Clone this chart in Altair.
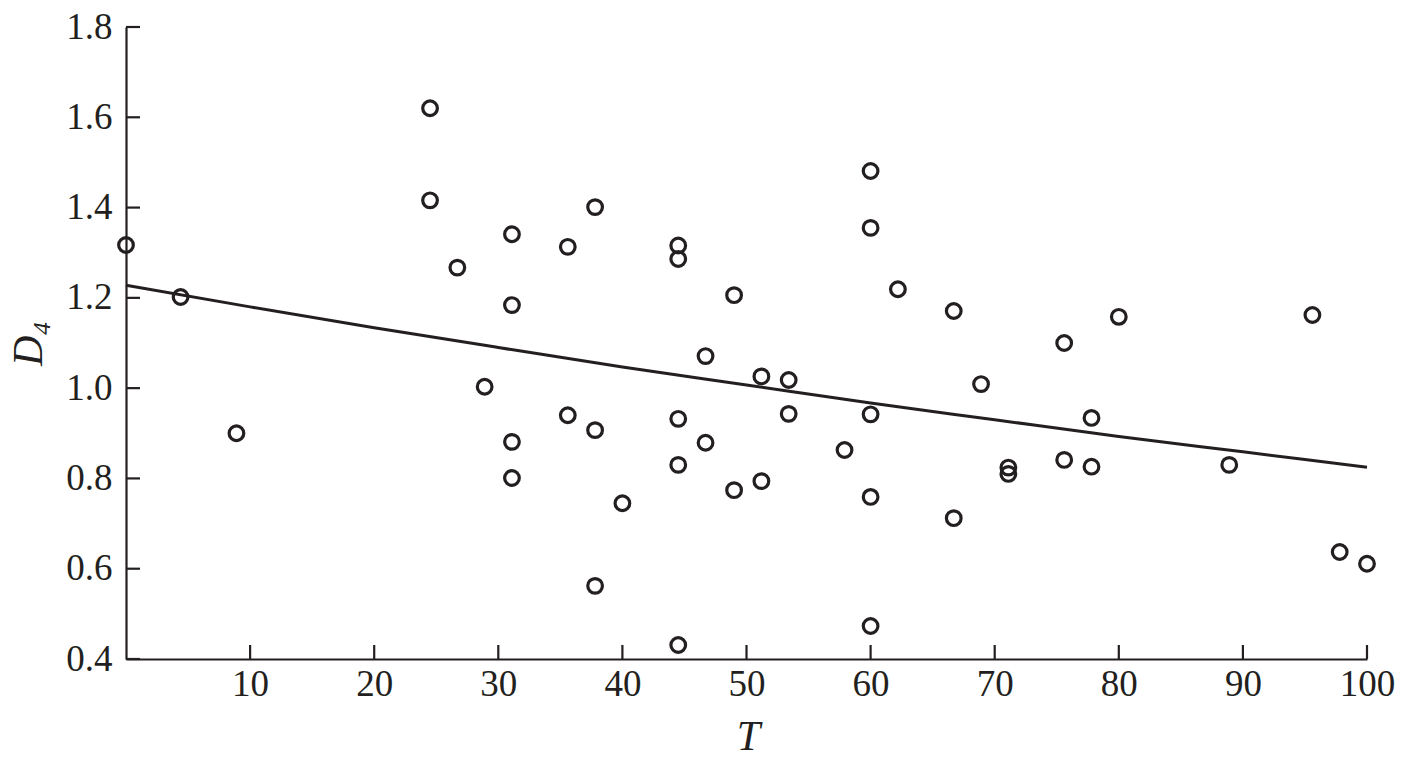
import altair as alt
import pandas as pd

# scatter data (T, D4)
t_vals = [0, 4.4, 8.9, 24.5, 24.5, 26.7, 28.9, 31.1, 31.1, 31.1, 31.1, 35.6, 35.6,
          37.8, 37.8, 37.8, 40.0, 44.5, 44.5, 44.5, 44.5, 44.5, 46.7, 46.7, 49.0, 49.0,
          51.2, 51.2, 53.4, 53.4, 57.9, 60.0, 60.0, 60.0, 60.0, 60.0, 62.2, 66.7, 66.7,
          68.9, 71.1, 71.1, 75.6, 75.6, 77.8, 77.8, 80.0, 88.9, 95.6, 97.8, 100.0]
d4_vals = [1.317, 1.202, 0.900, 1.620, 1.416, 1.267, 1.003, 1.341, 1.184, 0.881, 0.801, 1.313, 0.940,
           1.401, 0.907, 0.562, 0.745, 1.316, 1.286, 0.932, 0.830, 0.431, 1.071, 0.879, 1.206, 0.774,
           1.026, 0.794, 1.018, 0.943, 0.863, 1.481, 1.355, 0.942, 0.759, 0.473, 1.219, 1.171, 0.712,
           1.009, 0.824, 0.810, 1.100, 0.841, 0.934, 0.826, 1.158, 0.830, 1.162, 0.637, 0.611]

# fitted curve
curve_t = [0, 10, 20, 30, 40, 50, 60, 70, 80, 90, 100]
curve_d = [1.228, 1.180, 1.134, 1.090, 1.047, 1.007, 0.967, 0.930, 0.893, 0.859, 0.825]

x_ticks = [10, 20, 30, 40, 50, 60, 70, 80, 90, 100]
y_ticks = [0.4, 0.6, 0.8, 1.0, 1.2, 1.4, 1.6, 1.8]

pts = pd.DataFrame({"T": t_vals, "D4": d4_vals})
crv = pd.DataFrame({"T": curve_t, "D4": curve_d})
xt = pd.DataFrame({"v": x_ticks})
yt = pd.DataFrame({"v": y_ticks})

INK = "#231f20"
FONT = "Liberation Serif"
W, H = 1241, 632

xscale = alt.Scale(domain=[0, 100], nice=False, zero=False)
yscale = alt.Scale(domain=[0.4, 1.8], nice=False, zero=False)

xaxis = alt.Axis(values=x_ticks, ticks=False, grid=False, labelFont=FONT, labelFontSize=37,
                 labelColor=INK, labelPadding=7, domainColor=INK, domainWidth=2.2,
                 title="T", titleFont=FONT, titleFontSize=42, titleFontStyle="italic",
                 titleFontWeight="normal", titleColor=INK, titleX=622, titleY=77,
                 titleBaseline="middle", titleAlign="center", labelFlush=False)
yaxis = alt.Axis(values=y_ticks, format=".1f", ticks=False, grid=False, labelFont=FONT,
                 labelFontSize=37, labelColor=INK, labelPadding=14, domainColor=INK,
                 domainWidth=2.2, title="D₄", titleFont=FONT, titleFontSize=42,
                 titleFontStyle="italic", titleFontWeight="normal", titleColor=INK,
                 titleX=-85, titleY=316, titleAngle=270, titleBaseline="alphabetic",
                 titleAlign="center", labelFlush=False)

base_x = alt.X("T:Q", scale=xscale, axis=xaxis)
base_y = alt.Y("D4:Q", scale=yscale, axis=yaxis)

points = alt.Chart(pts).mark_point(shape="circle", filled=False, size=215, strokeWidth=3.2,
                                   color=INK, opacity=1, clip=False).encode(x=base_x, y=base_y)
line = alt.Chart(crv).mark_line(color=INK, strokeWidth=3, interpolate="monotone").encode(
    x=alt.X("T:Q", scale=xscale), y=alt.Y("D4:Q", scale=yscale))

xticks = alt.Chart(xt).mark_rule(color=INK, strokeWidth=2.2).encode(
    x=alt.X("v:Q", scale=xscale), y=alt.value(H), y2=alt.value(H - 14))
yticks = alt.Chart(yt).mark_rule(color=INK, strokeWidth=2.2).encode(
    y=alt.Y("v:Q", scale=yscale), x=alt.value(0), x2=alt.value(14))

chart = alt.layer(xticks, yticks, line, points).properties(
    width=W, height=H,
    autosize=alt.AutoSizeParams(type="none"),
    padding={"left": 118, "top": 19, "right": 28, "bottom": 98},
    background="white",
).configure_view(stroke=None)

chart.save("out.html", embed_options={"renderer": "svg", "actions": False})
